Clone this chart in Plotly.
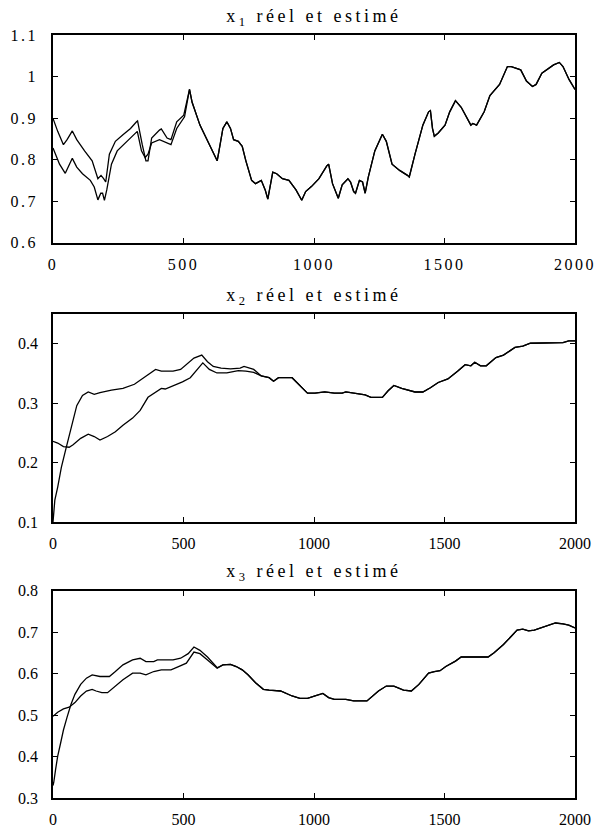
import plotly.graph_objects as go

# ---------------- Panel 1 : x1 ----------------
t1_reel_debut = [0, 25, 47, 62, 74, 91, 113, 143, 158, 172, 183, 190, 197, 206, 224, 246, 283, 312, 323, 339, 353, 364, 378, 408, 437, 452, 474, 504]
x1_reel_debut = [0.828, 0.789, 0.767, 0.785, 0.803, 0.782, 0.766, 0.750, 0.734, 0.703, 0.719, 0.719, 0.702, 0.727, 0.789, 0.821, 0.844, 0.861, 0.868, 0.821, 0.805, 0.813, 0.840, 0.848, 0.840, 0.836, 0.875, 0.903]
t1_est_debut = [0, 18, 40, 54, 74, 91, 121, 150, 172, 184, 194, 202, 216, 239, 268, 297, 320, 324, 342, 356, 364, 378, 408, 415, 437, 452, 474, 501]
x1_est_debut = [0.899, 0.868, 0.836, 0.848, 0.869, 0.848, 0.821, 0.797, 0.754, 0.762, 0.754, 0.746, 0.813, 0.844, 0.860, 0.875, 0.891, 0.893, 0.836, 0.797, 0.797, 0.852, 0.871, 0.874, 0.852, 0.848, 0.891, 0.907]
t1_commun = [523, 533, 563, 600, 621, 629, 636, 651, 666, 680, 692, 710, 725, 739, 761, 776, 798, 813, 823, 832, 842, 857, 879, 904, 931, 953, 968, 990, 1019, 1049, 1056, 1071, 1093, 1108, 1130, 1140, 1152, 1159, 1174, 1186, 1196, 1208, 1233, 1262, 1277, 1299, 1328, 1358, 1365, 1387, 1417, 1439, 1446, 1454, 1461, 1476, 1502, 1520, 1542, 1564, 1601, 1608, 1623, 1652, 1674, 1711, 1741, 1756, 1792, 1814, 1837, 1851, 1873, 1918, 1940, 1954, 1977, 2000]
x1_commun = [0.969, 0.938, 0.883, 0.836, 0.809, 0.797, 0.821, 0.875, 0.891, 0.875, 0.848, 0.844, 0.832, 0.797, 0.750, 0.742, 0.750, 0.727, 0.705, 0.735, 0.770, 0.766, 0.754, 0.750, 0.727, 0.702, 0.723, 0.735, 0.754, 0.785, 0.789, 0.742, 0.707, 0.739, 0.754, 0.746, 0.723, 0.719, 0.750, 0.746, 0.719, 0.758, 0.821, 0.861, 0.844, 0.789, 0.774, 0.762, 0.758, 0.813, 0.883, 0.915, 0.918, 0.875, 0.856, 0.864, 0.883, 0.915, 0.942, 0.926, 0.883, 0.887, 0.883, 0.915, 0.954, 0.981, 1.024, 1.024, 1.016, 0.989, 0.976, 0.981, 1.008, 1.028, 1.034, 1.024, 0.993, 0.969]

# ---------------- Panel 2 : x2 ----------------
t2_reel_debut = [0, 18, 40, 62, 77, 106, 135, 158, 180, 209, 239, 268, 305, 334, 364, 393, 415, 430, 460, 496, 526, 555, 574, 599, 628, 666, 710, 739, 769]
x2_reel_debut = [0.236, 0.233, 0.227, 0.226, 0.230, 0.241, 0.248, 0.244, 0.238, 0.244, 0.252, 0.263, 0.275, 0.288, 0.310, 0.318, 0.325, 0.324, 0.329, 0.336, 0.343, 0.357, 0.368, 0.357, 0.351, 0.351, 0.355, 0.354, 0.352]
t2_est_debut = [0, 7, 18, 32, 47, 62, 77, 91, 113, 135, 158, 180, 224, 268, 312, 356, 393, 415, 460, 489, 518, 540, 570, 592, 614, 644, 680, 717, 732, 769]
x2_est_debut = [0.100, 0.137, 0.159, 0.192, 0.219, 0.247, 0.274, 0.296, 0.313, 0.319, 0.315, 0.318, 0.322, 0.325, 0.332, 0.346, 0.357, 0.354, 0.354, 0.357, 0.368, 0.376, 0.381, 0.370, 0.362, 0.359, 0.358, 0.359, 0.362, 0.357]
t2_commun = [798, 828, 845, 864, 916, 946, 975, 1004, 1041, 1078, 1108, 1122, 1152, 1196, 1218, 1262, 1284, 1306, 1336, 1387, 1417, 1446, 1476, 1513, 1550, 1579, 1601, 1616, 1638, 1660, 1697, 1726, 1770, 1800, 1829, 1873, 1918, 1954, 1976, 2000]
x2_commun = [0.346, 0.343, 0.337, 0.343, 0.343, 0.329, 0.317, 0.317, 0.319, 0.317, 0.317, 0.319, 0.317, 0.314, 0.310, 0.310, 0.321, 0.330, 0.325, 0.319, 0.319, 0.326, 0.335, 0.341, 0.354, 0.365, 0.363, 0.369, 0.363, 0.363, 0.377, 0.381, 0.394, 0.396, 0.401, 0.401, 0.401, 0.402, 0.405, 0.405]

# ---------------- Panel 3 : x3 ----------------
t3_reel_debut = [0, 18, 40, 62, 84, 106, 128, 150, 165, 187, 209, 239, 268, 305, 334, 356, 386, 415, 452, 481, 511, 540, 563, 592, 614, 629]
x3_reel_debut = [0.497, 0.507, 0.515, 0.519, 0.530, 0.546, 0.558, 0.562, 0.558, 0.554, 0.554, 0.570, 0.585, 0.601, 0.601, 0.597, 0.605, 0.609, 0.609, 0.617, 0.625, 0.652, 0.648, 0.633, 0.621, 0.613]
t3_est_debut = [0, 3, 10, 18, 29, 40, 54, 69, 84, 106, 128, 150, 180, 216, 239, 268, 305, 334, 356, 386, 400, 460, 489, 518, 540, 563, 592, 614, 629]
x3_est_debut = [0.330, 0.338, 0.369, 0.401, 0.432, 0.464, 0.495, 0.526, 0.550, 0.574, 0.589, 0.597, 0.593, 0.593, 0.605, 0.621, 0.633, 0.637, 0.629, 0.629, 0.633, 0.633, 0.637, 0.648, 0.664, 0.656, 0.640, 0.625, 0.614]
t3_commun = [651, 680, 702, 725, 747, 776, 806, 828, 872, 916, 946, 975, 1004, 1034, 1056, 1078, 1122, 1152, 1203, 1247, 1277, 1306, 1343, 1373, 1402, 1439, 1461, 1483, 1505, 1542, 1564, 1667, 1690, 1726, 1756, 1778, 1800, 1822, 1844, 1888, 1925, 1954, 1976, 2000]
x3_commun = [0.621, 0.622, 0.617, 0.609, 0.597, 0.578, 0.562, 0.560, 0.558, 0.546, 0.540, 0.540, 0.546, 0.552, 0.542, 0.538, 0.538, 0.534, 0.534, 0.558, 0.570, 0.570, 0.560, 0.558, 0.574, 0.601, 0.605, 0.607, 0.617, 0.630, 0.640, 0.640, 0.650, 0.670, 0.690, 0.705, 0.707, 0.703, 0.705, 0.715, 0.722, 0.720, 0.717, 0.710]

titres = ["x<sub>1</sub> réel et estimé", "x<sub>2</sub> réel et estimé", "x<sub>3</sub> réel et estimé"]
plages_y = [[0.6, 1.1], [0.1, 0.45], [0.3, 0.8]]
ticks_y = [[0.6, 0.7, 0.8, 0.9, 1.0, 1.1], [0.1, 0.2, 0.3, 0.4], [0.3, 0.4, 0.5, 0.6, 0.7, 0.8]]
labels_y = [["0.6", "0.7", "0.8", "0.9", "1", "1.1"], ["0.1", "0.2", "0.3", "0.4"], ["0.3", "0.4", "0.5", "0.6", "0.7", "0.8"]]
ticks_x = [0, 500, 1000, 1500, 2000]

panneaux = [
    (t1_reel_debut, x1_reel_debut, t1_est_debut, x1_est_debut, t1_commun, x1_commun),
    (t2_reel_debut, x2_reel_debut, t2_est_debut, x2_est_debut, t2_commun, x2_commun),
    (t3_reel_debut, x3_reel_debut, t3_est_debut, x3_est_debut, t3_commun, x3_commun),
]

W, H = 603, 840
ml, mr, mt, mb = 53, 28, 35, 26
ph = H - mt - mb
def dom(top_px, bot_px):
    lo = max(0.0, 1 - (bot_px - mt) / ph)
    hi = min(1.0, 1 - (top_px - mt) / ph)
    return [lo, hi]
domaines = [dom(35, 247), dom(320, 532.3), dom(602.3, 814)]

FONT = "Liberation Serif"
fig = go.Figure()
layout = dict(
    width=W, height=H,
    margin=dict(l=ml, r=mr, t=mt, b=mb),
    paper_bgcolor="white", plot_bgcolor="white",
    showlegend=False,
    font=dict(family=FONT, size=16, color="black"),
)
annotations = []
for i, (tr, xr, te, xe, tc, xc) in enumerate(panneaux):
    n = "" if i == 0 else str(i + 1)
    xa, ya = "x" + n, "y" + n
    fig.add_trace(go.Scatter(x=tr + tc, y=xr + xc, mode="lines", name="réel",
                             line=dict(color="black", width=1.3), xaxis=xa, yaxis=ya))
    fig.add_trace(go.Scatter(x=te + tc, y=xe + xc, mode="lines", name="estimé",
                             line=dict(color="black", width=1.3), xaxis=xa, yaxis=ya))
    common = dict(showline=True, mirror="ticks", linecolor="black", linewidth=1.8,
                  ticks="inside", ticklen=5, tickwidth=1.3, tickcolor="black",
                  showgrid=False, zeroline=False,
                  tickfont=dict(family=FONT, size=16, color="black"))
    layout["xaxis" + n] = dict(common, domain=[0, 1], range=[0, 2000], tickvals=ticks_x,
                               ticktext=[str(v) for v in ticks_x], anchor=ya,
                               ticklabelstandoff=6)
    layout["yaxis" + n] = dict(common, domain=domaines[i], range=plages_y[i],
                               tickvals=ticks_y[i], ticktext=labels_y[i], anchor=xa,
                               ticklabelstandoff=10)
    annotations.append(dict(text=titres[i], xref="paper", yref="paper", x=0.5, y=domaines[i][1],
                            xanchor="center", yanchor="middle", yshift=18, showarrow=False,
                            font=dict(family=FONT, size=18, color="black")))
layout["annotations"] = annotations
fig.update_layout(**layout)

css = ("var s=document.createElement('style');"
       "s.innerHTML='html,body{margin:0;padding:0;overflow:hidden}"
       ".annotation-text{letter-spacing:3.5px}.xtick text,.ytick text{letter-spacing:2.5px}';"
       "document.head.appendChild(s);")
fig.write_html("out.html", post_script=css, config={"displayModeBar": False})
